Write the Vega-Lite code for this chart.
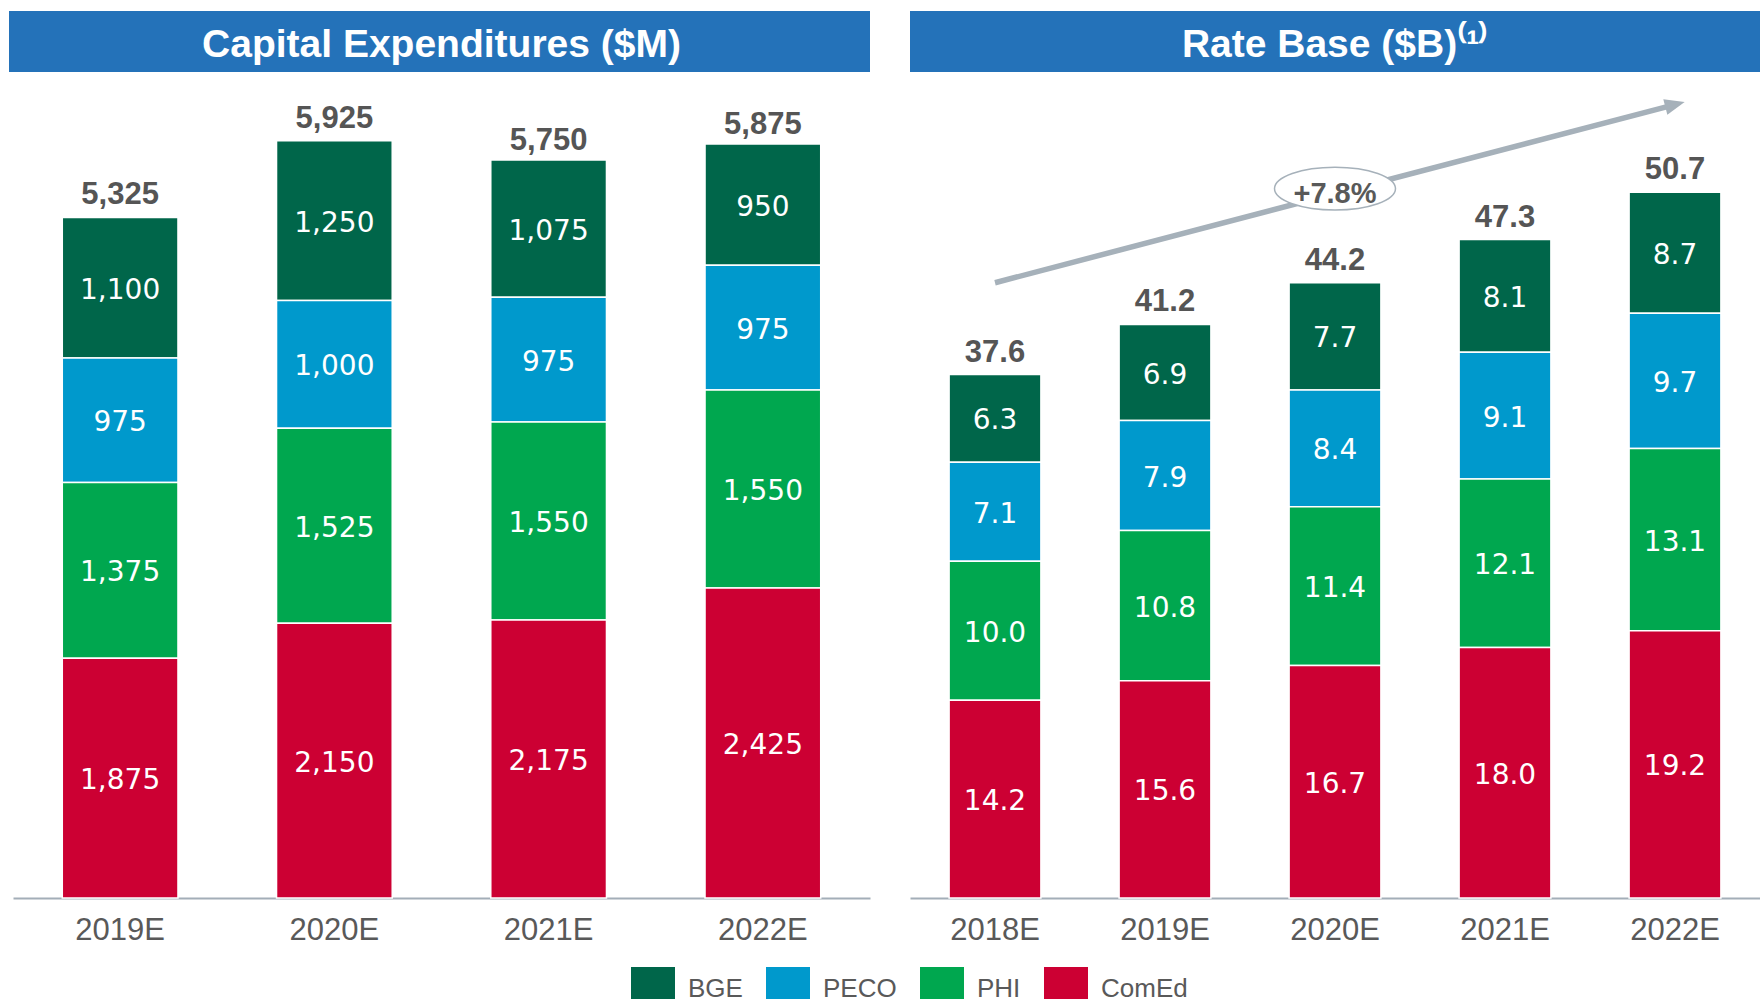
{
  "$schema": "https://vega.github.io/schema/vega-lite/v6.json",
  "padding": {"left": 9, "top": 11, "right": 0, "bottom": 0},
  "spacing": 40,
  "background": "white",
  "datasets": {
    "capex": [
      {"year": "2019E", "utility": "BGE", "value": 1100, "stack_rank": 4},
      {"year": "2019E", "utility": "PECO", "value": 975, "stack_rank": 3},
      {"year": "2019E", "utility": "PHI", "value": 1375, "stack_rank": 2},
      {"year": "2019E", "utility": "ComEd", "value": 1875, "stack_rank": 1},
      {"year": "2020E", "utility": "BGE", "value": 1250, "stack_rank": 4},
      {"year": "2020E", "utility": "PECO", "value": 1000, "stack_rank": 3},
      {"year": "2020E", "utility": "PHI", "value": 1525, "stack_rank": 2},
      {"year": "2020E", "utility": "ComEd", "value": 2150, "stack_rank": 1},
      {"year": "2021E", "utility": "BGE", "value": 1075, "stack_rank": 4},
      {"year": "2021E", "utility": "PECO", "value": 975, "stack_rank": 3},
      {"year": "2021E", "utility": "PHI", "value": 1550, "stack_rank": 2},
      {"year": "2021E", "utility": "ComEd", "value": 2175, "stack_rank": 1},
      {"year": "2022E", "utility": "BGE", "value": 950, "stack_rank": 4},
      {"year": "2022E", "utility": "PECO", "value": 975, "stack_rank": 3},
      {"year": "2022E", "utility": "PHI", "value": 1550, "stack_rank": 2},
      {"year": "2022E", "utility": "ComEd", "value": 2425, "stack_rank": 1}
    ],
    "capexTotal": [
      {"year": "2019E", "total": 5325},
      {"year": "2020E", "total": 5925},
      {"year": "2021E", "total": 5750},
      {"year": "2022E", "total": 5875}
    ],
    "rateBase": [
      {"year": "2018E", "utility": "BGE", "value": 6.3, "stack_rank": 4},
      {"year": "2018E", "utility": "PECO", "value": 7.1, "stack_rank": 3},
      {"year": "2018E", "utility": "PHI", "value": 10.0, "stack_rank": 2},
      {"year": "2018E", "utility": "ComEd", "value": 14.2, "stack_rank": 1},
      {"year": "2019E", "utility": "BGE", "value": 6.9, "stack_rank": 4},
      {"year": "2019E", "utility": "PECO", "value": 7.9, "stack_rank": 3},
      {"year": "2019E", "utility": "PHI", "value": 10.8, "stack_rank": 2},
      {"year": "2019E", "utility": "ComEd", "value": 15.6, "stack_rank": 1},
      {"year": "2020E", "utility": "BGE", "value": 7.7, "stack_rank": 4},
      {"year": "2020E", "utility": "PECO", "value": 8.4, "stack_rank": 3},
      {"year": "2020E", "utility": "PHI", "value": 11.4, "stack_rank": 2},
      {"year": "2020E", "utility": "ComEd", "value": 16.7, "stack_rank": 1},
      {"year": "2021E", "utility": "BGE", "value": 8.1, "stack_rank": 4},
      {"year": "2021E", "utility": "PECO", "value": 9.1, "stack_rank": 3},
      {"year": "2021E", "utility": "PHI", "value": 12.1, "stack_rank": 2},
      {"year": "2021E", "utility": "ComEd", "value": 18.0, "stack_rank": 1},
      {"year": "2022E", "utility": "BGE", "value": 8.7, "stack_rank": 4},
      {"year": "2022E", "utility": "PECO", "value": 9.7, "stack_rank": 3},
      {"year": "2022E", "utility": "PHI", "value": 13.1, "stack_rank": 2},
      {"year": "2022E", "utility": "ComEd", "value": 19.2, "stack_rank": 1}
    ],
    "rateBaseTotal": [
      {"year": "2018E", "total": 37.6},
      {"year": "2019E", "total": 41.2},
      {"year": "2020E", "total": 44.2},
      {"year": "2021E", "total": 47.3},
      {"year": "2022E", "total": 50.7}
    ]
  },
  "resolve": {"scale": {"color": "shared"}, "legend": {"color": "shared"}},
  "hconcat": [
    {
      "width": 857,
      "height": 887,
      "title": {"text": "Capital Expenditures ($M)", "frame": "group", "anchor": "middle", "orient": "top", "offset": -85, "baseline": "alphabetic", "fontSize": 39, "font": "Liberation Sans", "fontWeight": "bold", "color": "#FFFFFF"},
      "layer": [
        {
          "data": {"values": [{"band": "title"}]},
          "mark": {"type": "rect", "color": "#2472B9"},
          "encoding": {
            "x": {"value": -4},
            "x2": {"value": "width"},
            "y": {"datum": 6463, "type": "quantitative", "axis": null},
            "y2": {"datum": 6940}
          }
        },
        {
          "data": {"name": "capex"},
          "mark": {"type": "bar", "stroke": "#FFFFFF", "strokeWidth": 1.5},
          "encoding": {
            "x": {"field": "year", "type": "nominal", "title": null, "scale": {"paddingInner": 0.46, "paddingOuter": 0.23}},
            "y": {"field": "value", "type": "quantitative", "stack": "zero", "scale": {"domain": [0, 6940], "nice": false}, "axis": null},
            "color": {
              "field": "utility", "type": "nominal",
              "scale": {"domain": ["BGE", "PECO", "PHI", "ComEd"], "range": ["#00664A", "#0099CC", "#00A74F", "#CC0033"]},
              "legend": {"orient": "none", "direction": "horizontal", "legendX": 618, "legendY": 956, "title": null, "symbolType": "square", "symbolSize": 1936, "symbolStrokeWidth": 0, "symbolOpacity": 1, "labelFontSize": 26, "labelColor": "#595959", "labelFont": "Liberation Sans", "labelOffset": 13, "columnPadding": 23, "padding": 0}
            },
            "order": {"field": "stack_rank", "type": "quantitative"}
          }
        },
        {
          "data": {"name": "capex"},
          "transform": [
            {"stack": "value", "groupby": ["year"], "sort": [{"field": "stack_rank", "order": "ascending"}], "as": ["v0", "v1"]},
            {"fold": ["v0", "v1"], "as": ["edge_name", "edge"]},
            {"aggregate": [{"op": "mean", "field": "edge", "as": "mid"}], "groupby": ["year", "utility", "value"]}
          ],
          "mark": {"type": "text", "color": "#FFFFFF", "fontSize": 28, "font": "DejaVu Sans", "baseline": "middle", "align": "center", "dy": 3},
          "encoding": {
            "x": {"field": "year", "type": "nominal", "title": null},
            "y": {"field": "mid", "type": "quantitative", "axis": null},
            "text": {"field": "value", "type": "quantitative", "format": ",.0f"}
          }
        },
        {
          "data": {"name": "capexTotal"},
          "mark": {"type": "text", "color": "#555555", "fontSize": 31, "font": "Liberation Sans", "fontWeight": "bold", "baseline": "alphabetic", "align": "center", "dy": -13},
          "encoding": {
            "x": {"field": "year", "type": "nominal", "title": null},
            "y": {"field": "total", "type": "quantitative", "axis": null},
            "text": {"field": "total", "type": "quantitative", "format": ",.0f"}
          }
        }
      ]
    },
    {
      "width": 850,
      "height": 887,
      "title": {"text": "Rate Base ($B)⁽¹⁾", "frame": "group", "anchor": "middle", "orient": "top", "offset": -85, "baseline": "alphabetic", "fontSize": 39, "font": "Liberation Sans", "fontWeight": "bold", "color": "#FFFFFF"},
      "layer": [
        {
          "data": {"values": [{"band": "title"}]},
          "mark": {"type": "rect", "color": "#2472B9"},
          "encoding": {
            "x": {"value": 0},
            "x2": {"value": "width"},
            "y": {"datum": 59.34, "type": "quantitative", "axis": null},
            "y2": {"datum": 63.72}
          }
        },
        {
          "data": {"name": "rateBase"},
          "mark": {"type": "bar", "stroke": "#FFFFFF", "strokeWidth": 1.5},
          "encoding": {
            "x": {"field": "year", "type": "nominal", "title": null, "scale": {"paddingInner": 0.46, "paddingOuter": 0.23}},
            "y": {"field": "value", "type": "quantitative", "stack": "zero", "scale": {"domain": [0, 63.72], "nice": false}, "axis": null},
            "color": {
              "field": "utility", "type": "nominal",
              "scale": {"domain": ["BGE", "PECO", "PHI", "ComEd"], "range": ["#00664A", "#0099CC", "#00A74F", "#CC0033"]},
              "legend": {"orient": "none", "direction": "horizontal", "legendX": 618, "legendY": 956, "title": null, "symbolType": "square", "symbolSize": 1936, "symbolStrokeWidth": 0, "symbolOpacity": 1, "labelFontSize": 26, "labelColor": "#595959", "labelFont": "Liberation Sans", "labelOffset": 13, "columnPadding": 23, "padding": 0}
            },
            "order": {"field": "stack_rank", "type": "quantitative"}
          }
        },
        {
          "data": {"name": "rateBase"},
          "transform": [
            {"stack": "value", "groupby": ["year"], "sort": [{"field": "stack_rank", "order": "ascending"}], "as": ["v0", "v1"]},
            {"fold": ["v0", "v1"], "as": ["edge_name", "edge"]},
            {"aggregate": [{"op": "mean", "field": "edge", "as": "mid"}], "groupby": ["year", "utility", "value"]}
          ],
          "mark": {"type": "text", "color": "#FFFFFF", "fontSize": 28, "font": "DejaVu Sans", "baseline": "middle", "align": "center", "dy": 3},
          "encoding": {
            "x": {"field": "year", "type": "nominal", "title": null},
            "y": {"field": "mid", "type": "quantitative", "axis": null},
            "text": {"field": "value", "type": "quantitative", "format": ".1f"}
          }
        },
        {
          "data": {"name": "rateBaseTotal"},
          "mark": {"type": "text", "color": "#555555", "fontSize": 31, "font": "Liberation Sans", "fontWeight": "bold", "baseline": "alphabetic", "align": "center", "dy": -13},
          "encoding": {
            "x": {"field": "year", "type": "nominal", "title": null},
            "y": {"field": "total", "type": "quantitative", "axis": null},
            "text": {"field": "total", "type": "quantitative", "format": ".1f"}
          }
        },
        {
          "data": {"values": [{"year": "2018E", "year_end": "2022E"}]},
          "mark": {"type": "rule", "color": "#A6B1BA", "strokeWidth": 5.5, "strokeCap": "butt"},
          "encoding": {
            "x": {"field": "year", "type": "nominal", "title": null},
            "x2": {"field": "year_end"},
            "y": {"datum": 44.2, "type": "quantitative", "axis": null},
            "y2": {"datum": 57.0}
          }
        },
        {
          "data": {"values": [{"year": "2022E"}]},
          "mark": {"type": "point", "shape": "M 1 0 L -1 -0.8 L -1 0.8 Z", "size": 400, "angle": 345.3, "filled": true, "color": "#A6B1BA", "opacity": 1},
          "encoding": {
            "x": {"field": "year", "type": "nominal", "title": null},
            "y": {"datum": 57.0, "type": "quantitative", "axis": null}
          }
        },
        {
          "data": {"values": [{"year": "2020E"}]},
          "mark": {"type": "point", "shape": "M -1 0 A 1 0.355 0 1 1 1 0 A 1 0.355 0 1 1 -1 0 Z", "size": 14641, "fill": "#FFFFFF", "stroke": "#A6B1BA", "strokeWidth": 1.5, "opacity": 1, "fillOpacity": 1, "strokeOpacity": 1},
          "encoding": {
            "x": {"field": "year", "type": "nominal", "title": null},
            "y": {"datum": 50.96, "type": "quantitative", "axis": null}
          }
        },
        {
          "data": {"values": [{"year": "2020E"}]},
          "mark": {"type": "text", "text": "+7.8%", "color": "#595959", "fontSize": 29, "font": "Liberation Sans", "fontWeight": "bold", "baseline": "alphabetic", "align": "center"},
          "encoding": {
            "x": {"field": "year", "type": "nominal", "title": null},
            "y": {"datum": 49.91, "type": "quantitative", "axis": null}
          }
        }
      ]
    }
  ],
  "config": {
    "view": {"stroke": null},
    "axisX": {"domainColor": "#A3AEB8", "domainWidth": 2, "ticks": false, "tickSize": 0, "grid": false, "labelFontSize": 31, "labelColor": "#595959", "labelFont": "Liberation Sans", "labelPadding": 17, "labelAngle": 0}
  }
}
